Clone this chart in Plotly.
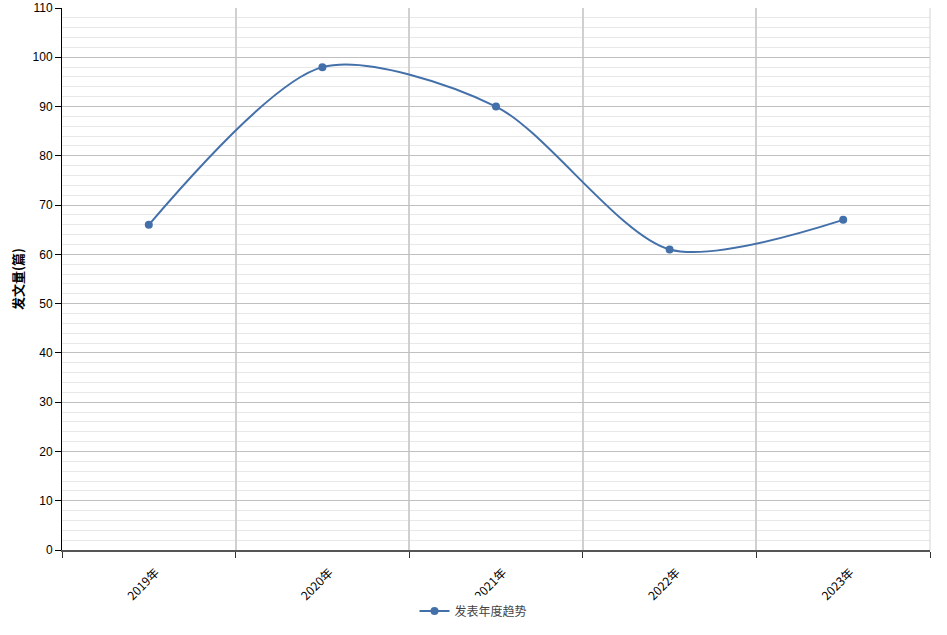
import plotly.graph_objects as go

years = ["2019年", "2020年", "2021年", "2022年", "2023年"]
counts = [66, 98, 90, 61, 67]
series_name = "发表年度趋势"
y_title = "发文量(篇)"

font_family = "Noto Sans CJK SC, Noto Sans, sans-serif"
tick_family = "Liberation Sans, Arial, sans-serif"
line_color = "#4470aa"

fig = go.Figure()
fig.add_trace(go.Scatter(
    x=years, y=counts, name=series_name,
    mode="lines+markers",
    line=dict(shape="spline", smoothing=0.8, color=line_color, width=2),
    marker=dict(size=8, color=line_color),
    showlegend=True,
))

fig.update_layout(
    width=947, height=635,
    margin=dict(l=62, r=17, t=8, b=85, autoexpand=False),
    paper_bgcolor="white", plot_bgcolor="white",
    font=dict(family=font_family, size=12, color="#000"),
    showlegend=True,
    legend=dict(orientation="h", xref="container", x=0.5, xanchor="center",
                yref="container", y=0.015, yanchor="bottom",
                font=dict(size=12, color="#444")),
)
fig.update_xaxes(
    type="category", tickson="boundaries", automargin=False,
    showgrid=True, gridcolor="#d0d0d0", gridwidth=1.5,
    showline=True, linecolor="#555", linewidth=2,
    mirror=False,
    ticks="outside", ticklen=6, tickcolor="#333",
    tickangle=-45, tickfont=dict(size=12, color="#000"),
    ticklabelstandoff=9, ticklabelshift=7,
    range=[-0.5, 4.5],
)
fig.update_yaxes(
    range=[0, 110], dtick=10, tick0=0, automargin=False,
    ticklabeloverflow="allow",
    showgrid=True, gridcolor="#c0c0c0", gridwidth=1,
    minor=dict(dtick=2, showgrid=True, gridcolor="#e8e8e8", gridwidth=1),
    showline=True, linecolor="#000", linewidth=1,
    ticks="outside", ticklen=6, tickcolor="#000",
    tickfont=dict(family=tick_family, size=12, color="#000"),
    zeroline=False,
    title=dict(text="<b>" + y_title + "</b>", font=dict(size=13, color="#000"), standoff=6),
)
fig.add_shape(type="line", xref="paper", yref="paper", x0=1, x1=1, y0=0, y1=1,
              line=dict(color="#d3d3d3", width=1))

fig.write_html(
    "out.html",
    config={"displayModeBar": False},
    post_script="document.body.style.margin='0';document.body.style.overflow='hidden';",
)
